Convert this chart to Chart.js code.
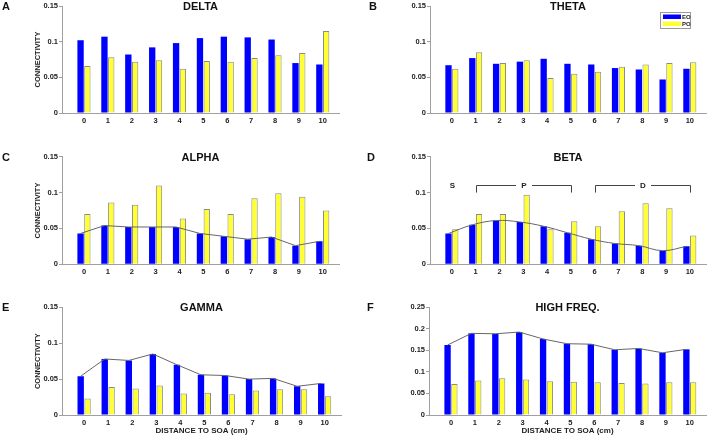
<!DOCTYPE html>
<html>
<head>
<meta charset="utf-8">
<script src="https://cdn.jsdelivr.net/npm/chart.js@4.4.1/dist/chart.umd.min.js"></script>
<style>
  body { margin: 0; background: #fff; }
  #page { position: relative; width: 708px; height: 436px; overflow: hidden; }
  canvas { position: absolute; }
</style>
</head>
<body>
<div id="page">
  <canvas id="panelA" width="354" height="140" style="left:0;top:0"></canvas>
  <canvas id="panelB" width="354" height="140" style="left:354px;top:0"></canvas>
  <canvas id="panelC" width="354" height="145" style="left:0;top:140px"></canvas>
  <canvas id="panelD" width="354" height="145" style="left:354px;top:140px"></canvas>
  <canvas id="panelE" width="354" height="151" style="left:0;top:285px"></canvas>
  <canvas id="panelF" width="354" height="151" style="left:354px;top:285px"></canvas>
</div>
<script>
// distance to SOA (cm), x categories
const distances = [0, 1, 2, 3, 4, 5, 6, 7, 8, 9, 10];
const seriesNames = ['EO', 'PO'];

const deltaEO = [0.102, 0.107, 0.082, 0.092, 0.098, 0.105, 0.107, 0.106, 0.103, 0.070, 0.068];
const deltaPO = [0.066, 0.078, 0.072, 0.074, 0.062, 0.073, 0.072, 0.077, 0.081, 0.084, 0.115];
const thetaEO = [0.067, 0.077, 0.069, 0.072, 0.076, 0.069, 0.068, 0.063, 0.061, 0.047, 0.062];
const thetaPO = [0.062, 0.085, 0.070, 0.074, 0.049, 0.055, 0.058, 0.065, 0.068, 0.070, 0.071];
const alphaEO = [0.043, 0.054, 0.052, 0.052, 0.052, 0.043, 0.039, 0.035, 0.038, 0.026, 0.032];
const alphaPO = [0.070, 0.086, 0.083, 0.110, 0.064, 0.077, 0.070, 0.092, 0.099, 0.094, 0.075];
const betaEO = [0.043, 0.055, 0.061, 0.059, 0.053, 0.044, 0.035, 0.029, 0.026, 0.019, 0.025];
const betaPO = [0.049, 0.070, 0.070, 0.097, 0.049, 0.060, 0.053, 0.074, 0.085, 0.078, 0.040];
const gammaEO = [0.054, 0.078, 0.076, 0.085, 0.070, 0.056, 0.055, 0.050, 0.051, 0.040, 0.044];
const gammaPO = [0.023, 0.039, 0.037, 0.041, 0.030, 0.031, 0.029, 0.034, 0.036, 0.036, 0.026];
const highEO = [0.162, 0.189, 0.188, 0.192, 0.176, 0.165, 0.164, 0.151, 0.154, 0.144, 0.152];
const highPO = [0.072, 0.080, 0.085, 0.082, 0.078, 0.077, 0.076, 0.074, 0.073, 0.076, 0.076];

// beta panel segments: S (source), P (proximal), D (distal)
const segmentLabels = ['S', 'P', 'D'];
const segmentFrom = [0, 1, 6];
const segmentTo = [0, 5, 10];

const FONT = "'Liberation Sans', Arial, sans-serif";
const BLUE = '#0000ff';
const YELLOW = '#ffff33';
const CAT_PCT = 0.57;
const BAR_PCT = 0.93;

Chart.defaults.font.family = FONT;
Chart.defaults.color = '#222';

const panelDecor = {
    id: 'panelDecor',
    afterDraw(chart, args, opts) {
        const ctx = chart.ctx;
        const area = chart.chartArea;
        ctx.save();
        ctx.fillStyle = '#111';
        ctx.textBaseline = 'middle';

        // panel letter
        ctx.font = `bold 11px ${FONT}`;
        ctx.textAlign = 'left';
        ctx.fillText(opts.letter, opts.letterX, area.top + 1);

        // band title
        ctx.textAlign = 'center';
        ctx.fillText(opts.title, (area.left + area.right) / 2, area.top + 1);

        if (opts.legend) {
            const bx = area.right - 46, by = area.top + 6;
            ctx.strokeStyle = '#999';
            ctx.lineWidth = 1;
            ctx.fillStyle = '#fff';
            ctx.fillRect(bx, by, 30, 16);
            ctx.strokeRect(bx + 0.5, by + 0.5, 30, 16);
            const colors = [BLUE, YELLOW];
            ctx.font = `bold 6px ${FONT}`;
            ctx.textAlign = 'left';
            seriesNames.forEach((name, i) => {
                ctx.fillStyle = colors[i];
                ctx.fillRect(bx + 3, by + 2.5 + i * 7, 18, 4.5);
                ctx.fillStyle = '#222';
                ctx.fillText(name, bx + 22, by + 5 + i * 7);
            });
        }

        if (opts.brackets) {
            const xs = chart.scales.x, ys = chart.scales.y;
            const yTop = Math.round(ys.getPixelForValue(0.111)) + 0.5;
            const yFoot = ys.getPixelForValue(0.1);
            ctx.font = `bold 8px ${FONT}`;
            ctx.textAlign = 'center';
            ctx.strokeStyle = '#444';
            ctx.lineWidth = 1;
            segmentLabels.forEach((label, i) => {
                const x0 = Math.round(xs.getPixelForValue(segmentFrom[i])) + 0.5;
                const x1 = Math.round(xs.getPixelForValue(segmentTo[i])) + 0.5;
                const xm = (x0 + x1) / 2;
                ctx.fillStyle = '#222';
                ctx.fillText(label, xm, yTop);
                if (segmentFrom[i] === segmentTo[i]) return;
                const gap = 8;
                ctx.beginPath();
                ctx.moveTo(x0, yFoot);
                ctx.lineTo(x0, yTop);
                ctx.lineTo(xm - gap, yTop);
                ctx.moveTo(xm + gap, yTop);
                ctx.lineTo(x1, yTop);
                ctx.lineTo(x1, yFoot);
                ctx.stroke();
            });
        }
        ctx.restore();
    }
};

function makePanel(id, cfg) {
    const datasets = [
        {
            type: 'bar', label: seriesNames[0], order: 1,
            data: distances.map((d, i) => ({ x: d, y: cfg.eo[i] })),
            backgroundColor: BLUE, borderWidth: 0,
            categoryPercentage: CAT_PCT, barPercentage: BAR_PCT
        },
        {
            type: 'bar', label: seriesNames[1], order: 1,
            data: distances.map((d, i) => ({ x: d, y: cfg.po[i] })),
            backgroundColor: YELLOW, borderColor: '#8a8a8a', borderWidth: 1,
            categoryPercentage: CAT_PCT, barPercentage: BAR_PCT
        }
    ];
    if (cfg.trend) {
        // trend through the EO bar tops (EO bar sits left of group centre)
        datasets.push({
            type: 'line', order: 0,
            data: distances.map((d, i) => ({ x: d - CAT_PCT / 4, y: cfg.eo[i] })),
            borderColor: '#666', borderWidth: 1, pointRadius: 0,
            tension: cfg.trend === 'smooth' ? 0.4 : 0, fill: false
        });
    }

    new Chart(document.getElementById(id), {
        type: 'bar',
        data: { datasets },
        options: {
            responsive: false,
            animation: false,
            layout: { padding: { left: 0, top: cfg.top, right: cfg.rightPad, bottom: 0 } },
            plugins: {
                legend: { display: false },
                tooltip: { enabled: false },
                panelDecor: cfg.decor
            },
            scales: {
                x: {
                    type: 'linear',
                    offset: false,
                    min: -0.92, max: 10.68,
                    grid: { display: true, drawOnChartArea: false, drawTicks: false },
                    border: { color: '#a0a0a0' },
                    ticks: {
                        stepSize: 1, includeBounds: false, autoSkip: false, maxRotation: 0,
                        padding: 3,
                        font: { size: 7.5, weight: 'bold' },
                        callback: v => distances.includes(v) ? String(v) : ''
                    },
                    title: {
                        display: !!cfg.xTitle, text: 'DISTANCE TO SOA (cm)',
                        font: { size: 8, weight: 'bold' }, padding: { top: 0, bottom: 0 }, color: '#222'
                    },
                    afterFit: s => { s.height = cfg.xHeight; }
                },
                y: {
                    min: 0, max: cfg.yMax,
                    grid: { display: true, drawOnChartArea: false, drawTicks: true, tickLength: 3, tickColor: '#a0a0a0' },
                    border: { color: '#a0a0a0' },
                    ticks: {
                        stepSize: 0.05, padding: 1,
                        font: { size: 7.5, weight: 'bold' },
                        callback: v => String(+v.toFixed(2))
                    },
                    title: {
                        display: !!cfg.yTitle, text: 'CONNECTIVITY',
                        font: { size: 7.5, weight: 'bold' }, padding: { top: 33, bottom: 0 }, color: '#222'
                    },
                    afterFit: s => { s.width = cfg.yWidth; }
                }
            }
        },
        plugins: [panelDecor]
    });
}

makePanel('panelA', { eo: deltaEO, po: deltaPO, yMax: 0.15, top: 6, rightPad: 15, yWidth: 62, xHeight: 27, yTitle: true,
    decor: { letter: 'A', letterX: 2, title: 'DELTA' } });
makePanel('panelB', { eo: thetaEO, po: thetaPO, yMax: 0.15, top: 6, rightPad: 2, yWidth: 76, xHeight: 27,
    decor: { letter: 'B', letterX: 15, title: 'THETA', legend: true } });
makePanel('panelC', { eo: alphaEO, po: alphaPO, yMax: 0.15, top: 16.7, rightPad: 15, yWidth: 62, xHeight: 20.7, yTitle: true, trend: 'straight',
    decor: { letter: 'C', letterX: 2, title: 'ALPHA' } });
makePanel('panelD', { eo: betaEO, po: betaPO, yMax: 0.15, top: 16.7, rightPad: 2, yWidth: 76, xHeight: 20.7, trend: 'smooth',
    decor: { letter: 'D', letterX: 13, title: 'BETA', brackets: true } });
makePanel('panelE', { eo: gammaEO, po: gammaPO, yMax: 0.15, top: 22.3, rightPad: 13, yWidth: 62, xHeight: 21, yTitle: true, xTitle: true, trend: 'straight',
    decor: { letter: 'E', letterX: 2, title: 'GAMMA' } });
makePanel('panelF', { eo: highEO, po: highPO, yMax: 0.25, top: 22, rightPad: 2, yWidth: 75, xHeight: 21, xTitle: true, trend: 'straight',
    decor: { letter: 'F', letterX: 13, title: 'HIGH FREQ.' } });
</script>
</body>
</html>
